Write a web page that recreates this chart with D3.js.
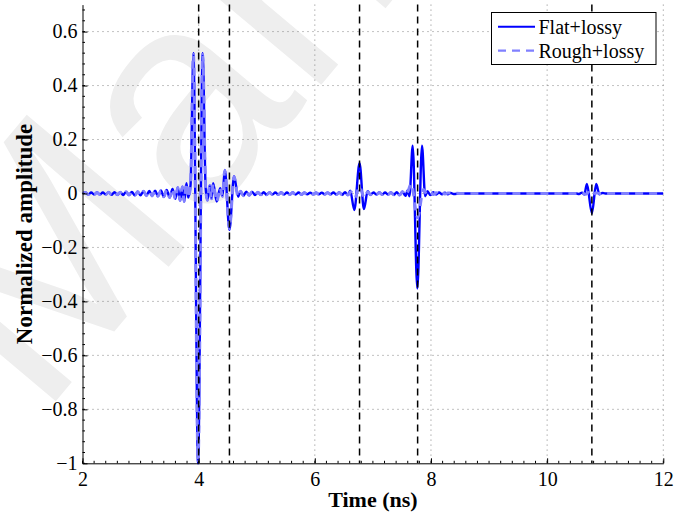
<!DOCTYPE html>
<html>
<head>
<meta charset="utf-8">
<script src="https://cdn.jsdelivr.net/npm/d3@7"></script>
<style>
  body { margin: 0; background: #fff; }
  svg { display: block; font-family: "Liberation Serif", "Times New Roman", serif; }
</style>
</head>
<body>
<div id="chart"></div>
<script>
// Axis ticks
const xTicks = [2, 4, 6, 8, 10, 12];
const yTicks = [-1, -0.8, -0.6, -0.4, -0.2, 0, 0.2, 0.4, 0.6];

// Reflection instants (vertical dashed markers), ns
const markers = [4.0, 4.53, 6.77, 7.77, 10.77];

// Flat+lossy: [time (ns), normalized amplitude]
const flatLossy = [
  [2.00,0],[2.05,.004],[2.10,-.004],[2.15,.004],[2.20,-.004],[2.25,.004],[2.30,-.004],[2.35,.004],
  [2.40,-.004],[2.45,.005],[2.50,-.005],[2.55,.005],[2.60,-.005],[2.65,.005],[2.70,-.006],[2.75,.006],
  [2.80,-.006],[2.85,.006],[2.90,-.007],[2.95,.007],[3.00,-.007],[3.05,.008],[3.10,-.008],[3.15,.009],
  [3.20,-.009],[3.25,.010],[3.30,-.010],[3.35,.011],[3.40,-.012],[3.45,.013],[3.50,-.015],[3.55,.017],
  [3.60,-.020],[3.64,.022],[3.68,-.026],[3.72,.025],[3.75,-.030],[3.79,.038],[3.82,-.015],[3.86,.03],
  [3.91,.52],[3.99,-1],[4.07,.52],[4.12,.02],[4.15,-.025],[4.19,.03],[4.22,-.02],[4.25,.038],
  [4.31,-.03],[4.37,.02],[4.41,-.01],[4.45,.087],[4.53,-.135],[4.61,.064],[4.68,-.012],[4.72,.008],
  [4.77,-.008],[4.82,.007],[4.87,-.007],[4.92,.006],[4.97,-.006],[5.02,.005],[5.07,-.005],[5.12,.005],
  [5.17,-.005],[5.22,.004],[5.27,-.004],[5.32,.004],[5.37,-.004],[5.42,.004],[5.47,-.004],[5.52,.004],
  [5.57,-.004],[5.62,.004],[5.67,-.004],[5.72,.004],[5.77,-.004],[5.82,.003],[5.87,-.003],[5.92,.003],
  [5.97,-.003],[6.02,.003],[6.07,-.003],[6.12,.003],[6.17,-.003],[6.22,.003],[6.27,-.003],[6.32,.004],
  [6.37,-.004],[6.42,.004],[6.47,-.005],[6.52,.005],[6.57,-.006],[6.61,.01],[6.68,-.061],[6.77,.112],
  [6.845,-.058],[6.91,.008],[6.96,-.005],[7.01,.004],[7.06,-.004],[7.11,.004],[7.16,-.004],[7.21,.004],
  [7.26,-.004],[7.31,.004],[7.36,-.005],[7.41,.005],[7.46,-.006],[7.51,.007],[7.56,-.009],[7.60,.012],
  [7.63,-.01],[7.685,.177],[7.765,-.352],[7.845,.177],[7.90,-.01],[7.94,.008],[7.99,-.006],[8.04,.005],
  [8.09,-.004],[8.14,.004],[8.19,-.003],[8.24,.003],[8.29,-.003],[8.34,.002],[8.39,-.002],[8.5,0],
  [9.0,0],[9.5,0],[10.0,0],[10.5,0],[10.55,-.002],[10.60,.003],[10.64,-.004],[10.685,.035],
  [10.77,-.073],[10.845,.035],[10.90,-.003],[10.95,.002],[11.0,0],[11.5,0],[12.0,0]
];

// Rough+lossy: [time (ns), normalized amplitude]
const roughLossy = [
  [2.00,0],[2.05,.004],[2.10,-.004],[2.15,.004],[2.20,-.004],[2.25,.004],[2.30,-.004],[2.35,.004],
  [2.40,-.004],[2.45,.005],[2.50,-.005],[2.55,.005],[2.60,-.005],[2.65,.005],[2.70,-.006],[2.75,.006],
  [2.80,-.006],[2.85,.006],[2.90,-.007],[2.95,.007],[3.00,-.007],[3.05,.008],[3.10,-.008],[3.15,.009],
  [3.20,-.009],[3.25,.010],[3.30,-.010],[3.35,.011],[3.40,-.012],[3.45,.013],[3.50,-.015],[3.55,.017],
  [3.60,-.020],[3.64,.022],[3.68,-.026],[3.72,.025],[3.75,-.030],[3.79,.038],[3.82,-.015],[3.86,.03],
  [3.91,.515],[3.99,-.99],[4.07,.515],[4.12,.02],[4.15,-.025],[4.19,.03],[4.22,-.02],[4.25,.036],
  [4.31,-.03],[4.37,.02],[4.41,-.01],[4.45,.085],[4.53,-.13],[4.61,.062],[4.68,-.012],[4.72,.008],
  [4.77,-.008],[4.82,.007],[4.87,-.007],[4.92,.006],[4.97,-.006],[5.02,.005],[5.07,-.005],[5.12,.005],
  [5.17,-.005],[5.22,.004],[5.27,-.004],[5.32,.004],[5.37,-.004],[5.42,.004],[5.47,-.004],[5.52,.004],
  [5.57,-.004],[5.62,.004],[5.67,-.004],[5.72,.004],[5.77,-.004],[5.82,.003],[5.87,-.003],[5.92,.003],
  [5.97,-.003],[6.02,.003],[6.07,-.003],[6.12,.003],[6.17,-.003],[6.22,.003],[6.27,-.003],[6.32,.004],
  [6.37,-.004],[6.42,.004],[6.47,-.005],[6.52,.005],[6.57,-.006],[6.62,.006],[6.69,-.015],[6.77,.025],
  [6.85,-.015],[6.91,.006],[6.96,-.005],[7.01,.004],[7.06,-.004],[7.11,.004],[7.16,-.004],[7.21,.004],
  [7.26,-.004],[7.31,.004],[7.36,-.005],[7.41,.005],[7.46,-.006],[7.51,.006],[7.56,-.006],[7.60,.006],
  [7.66,.035],[7.77,-.09],[7.87,.015],[7.93,-.004],[7.99,.004],[8.04,-.004],[8.09,.003],[8.14,-.003],
  [8.19,.003],[8.24,-.002],[8.29,.002],[8.5,0],[9.0,0],[9.5,0],[10.0,0],[10.5,0],[10.6,.002],
  [10.66,-.003],[10.72,.004],[10.78,-.008],[10.84,.003],[10.9,0],[11.0,0],[11.5,0],[12.0,0]
];

const seriesNames = ["Flat+lossy", "Rough+lossy"];

const W = 684, H = 516;
const plot = { left: 82.5, right: 663.3, top: 4.6, bottom: 463.3 };
const serif = "'Liberation Serif', 'Times New Roman', serif";

const x = d3.scaleLinear().domain([2, 12]).range([plot.left, plot.right]);
const y = d3.scaleLinear().domain([-1, 0.7]).range([plot.bottom, plot.top]);

const svg = d3.select("#chart").append("svg")
    .attr("width", W)
    .attr("height", H);

// faint watermark behind everything
svg.append("text")
    .attr("transform", "translate(40,420) rotate(-50)")
    .style("font-family", "'Liberation Sans', Arial, sans-serif")
    .style("font-size", "300px")
    .style("fill", "#eeeeee")
    .text("Manuscript");

// Grid (dotted)
const grid = svg.append("g").attr("class", "grid")
    .attr("stroke", "#666").attr("stroke-width", 0.8).attr("stroke-dasharray", "1,4");
grid.selectAll(".gx").data(xTicks.filter(d => d > 2))
  .enter().append("line")
    .attr("x1", d => x(d)).attr("x2", d => x(d))
    .attr("y1", plot.top).attr("y2", plot.bottom);
grid.selectAll(".gy").data(yTicks.filter(d => d > -1))
  .enter().append("line")
    .attr("x1", plot.left).attr("x2", plot.right)
    .attr("y1", d => y(d)).attr("y2", d => y(d));

// Clip to plotting area
svg.append("clipPath").attr("id", "clip")
  .append("rect")
    .attr("x", plot.left).attr("y", plot.top)
    .attr("width", plot.right - plot.left).attr("height", plot.bottom - plot.top + 2);

const line = d3.line()
    .x(d => x(d[0]))
    .y(d => y(d[1]))
    .curve(d3.curveMonotoneX);

const curves = svg.append("g").attr("clip-path", "url(#clip)");

curves.append("path")
    .datum(flatLossy)
    .attr("fill", "none")
    .attr("stroke", "#0000ff")
    .attr("stroke-width", 2.4)
    .attr("d", line);

curves.append("path")
    .datum(roughLossy)
    .attr("fill", "none")
    .attr("stroke", "#8080ff")
    .attr("stroke-width", 3)
    .attr("stroke-dasharray", "8,6")
    .attr("d", line);

// Vertical dashed markers
svg.append("g").selectAll("line").data(markers)
  .enter().append("line")
    .attr("x1", d => x(d)).attr("x2", d => x(d))
    .attr("y1", plot.top).attr("y2", plot.bottom)
    .attr("stroke", "#000")
    .attr("stroke-width", 1.5)
    .attr("stroke-dasharray", "7,5");

// Axes (ticks inward, MATLAB style)
const xAxis = d3.axisBottom(x).tickValues(xTicks).tickSizeInner(-5).tickSizeOuter(0)
    .tickFormat(d3.format("d"));
const yAxis = d3.axisLeft(y).tickValues(yTicks).tickSizeInner(-5).tickSizeOuter(0)
    .tickFormat(d => d === 0 ? "0" : d === -1 ? "\u22121" : d3.format(".1f")(d).replace("-", "\u2212"));

const gx = svg.append("g")
    .attr("transform", `translate(0,${plot.bottom})`)
    .attr("font-family", serif)
    .call(xAxis);
gx.attr("font-family", serif).attr("font-size", 20);
gx.select(".domain").attr("stroke", "#000").attr("stroke-width", 1);
gx.selectAll("text")
    .attr("y", 9)
    .attr("dy", "0.71em")
    .style("font-family", serif)
    .style("font-size", "20px")
    .style("fill", "#000");

const gy = svg.append("g")
    .attr("transform", `translate(${plot.left},0)`)
    .call(yAxis);
gy.attr("font-family", serif).attr("font-size", 20);
gy.select(".domain").attr("stroke", "#000").attr("stroke-width", 1);
gy.selectAll("text")
    .attr("x", -5)
    .style("font-family", serif)
    .style("font-size", "20px")
    .style("fill", "#000");

// Minor ticks
const xMinor = d3.range(2, 12.001, 0.2);
const yMinor = d3.range(-1, 0.701, 0.04);
svg.append("g").selectAll("line").data(xMinor)
  .enter().append("line")
    .attr("x1", d => x(d)).attr("x2", d => x(d))
    .attr("y1", plot.bottom).attr("y2", plot.bottom - 2.5)
    .attr("stroke", "#000");
svg.append("g").selectAll("line").data(yMinor)
  .enter().append("line")
    .attr("x1", plot.left).attr("x2", plot.left + 2.5)
    .attr("y1", d => y(d)).attr("y2", d => y(d))
    .attr("stroke", "#000");

// Axis labels
svg.append("text")
    .attr("x", (plot.left + plot.right) / 2)
    .attr("y", 507)
    .attr("text-anchor", "middle")
    .style("font-family", serif)
    .style("font-size", "22px")
    .style("font-weight", "bold")
    .text("Time (ns)");

svg.append("text")
    .attr("transform", `translate(32,${(plot.top + plot.bottom) / 2}) rotate(-90)`)
    .attr("text-anchor", "middle")
    .style("font-family", serif)
    .style("font-size", "23px")
    .style("font-weight", "bold")
    .text("Normalized amplitude");

// Legend
const legend = svg.append("g");
legend.append("rect")
    .attr("x", 491.5).attr("y", 12.5)
    .attr("width", 164.5).attr("height", 52)
    .attr("fill", "#fff")
    .attr("stroke", "#000")
    .attr("stroke-width", 1);

const legendStyles = [
  { color: "#0000ff", width: 2, dash: null },
  { color: "#8080ff", width: 2.2, dash: "8,6" }
];
seriesNames.forEach((name, i) => {
  const ly = 26.7 + i * 24;
  legend.append("line")
      .attr("x1", 498).attr("x2", 535)
      .attr("y1", ly).attr("y2", ly)
      .attr("stroke", legendStyles[i].color)
      .attr("stroke-width", legendStyles[i].width)
      .attr("stroke-dasharray", legendStyles[i].dash);
  legend.append("text")
      .attr("x", 538.5)
      .attr("y", ly + 7)
      .style("font-family", serif)
      .style("font-size", "20px")
      .text(name);
});
</script>
</body>
</html>
